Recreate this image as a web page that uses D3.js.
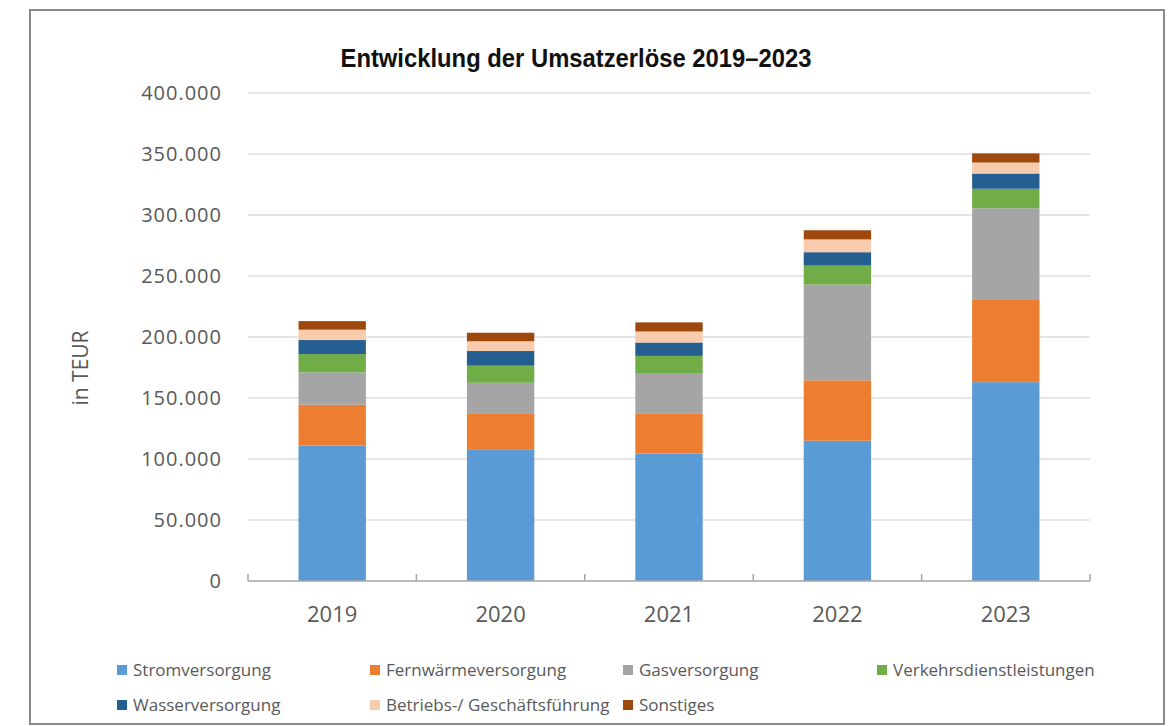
<!DOCTYPE html>
<html>
<head>
<meta charset="utf-8">
<script src="https://cdn.jsdelivr.net/npm/d3@7"></script>
<style>
    body { margin: 0; background: #fff; }
    svg { display: block; }
</style>
</head>
<body>
<svg id="chart" width="1170" height="726"></svg>
<script>
// Chart data (TEUR)
const years = ["2019", "2020", "2021", "2022", "2023"];
const seriesNames = [
    "Stromversorgung", "Fernwärmeversorgung", "Gasversorgung", "Verkehrsdienstleistungen",
    "Wasserversorgung", "Betriebs-/ Geschäftsführung", "Sonstiges"
];
const strom = [111000, 107500, 104500, 115000, 163000];
const fernwaerme = [33500, 30000, 32500, 49500, 68000];
const gas = [26500, 25000, 33500, 78500, 74500];
const verkehr = [15000, 14000, 14000, 15500, 16000];
const wasser = [11500, 12000, 11000, 11000, 12500];
const betrieb = [8500, 8000, 9000, 10500, 9000];
const sonstiges = [7000, 7000, 7500, 7500, 7500];
const yTicks = [0, 50000, 100000, 150000, 200000, 250000, 300000, 350000, 400000];
const seriesColors = ["#5b9bd5", "#ed7d31", "#a5a5a5", "#70ad47", "#255e91", "#f8cbad", "#9e480e"];

const seriesValues = [strom, fernwaerme, gas, verkehr, wasser, betrieb, sonstiges];
const table = years.map((y, i) => {
    const row = { year: y };
    seriesNames.forEach((s, j) => { row[s] = seriesValues[j][i]; });
    return row;
});

const svg = d3.select("#chart");
const margin = { top: 93, right: 80, bottom: 145, left: 248 };
const width = +svg.attr("width") - margin.left - margin.right;
const height = +svg.attr("height") - margin.top - margin.bottom;
const textColor = "#595959";

// Frame round the chart
svg.append("rect")
    .attr("x", 30).attr("y", 10)
    .attr("width", 1134).attr("height", 714)
    .attr("fill", "#fff")
    .attr("stroke", "#8a8a8a")
    .attr("stroke-width", 2);

const chart = svg.append("g").attr("transform", `translate(${margin.left},${margin.top})`);

const x = d3.scaleBand()
    .domain(years)
    .range([0, width])
    .paddingInner(0.6)
    .paddingOuter(0.3);

const y = d3.scaleLinear()
    .domain([0, 400000])
    .range([height, 0]);

const fmt = v => d3.format(",")(v).replace(/,/g, ".");

// Gridlines
chart.append("g")
    .selectAll("line")
    .data(yTicks.filter(d => d > 0))
    .join("line")
    .attr("x1", 0).attr("x2", width)
    .attr("y1", d => y(d)).attr("y2", d => y(d))
    .attr("stroke", "#dedede")
    .attr("stroke-width", 1.5);

// Y labels
const yAxis = chart.append("g")
    .call(d3.axisLeft(y).tickValues(yTicks).tickFormat(fmt).tickSize(0).tickPadding(26));
yAxis.select(".domain").remove();
yAxis.selectAll("text")
    .style("font-family", "'Open Sans', sans-serif")
    .style("font-size", "20px")
    .style("letter-spacing", "1px")
    .style("fill", textColor);

// Stacked bars
const stack = d3.stack().keys(seriesNames);
const layers = stack(table);

chart.append("g")
    .selectAll("g")
    .data(layers)
    .join("g")
    .attr("fill", (d, i) => seriesColors[i])
    .selectAll("rect")
    .data(d => d)
    .join("rect")
    .attr("x", d => x(d.data.year))
    .attr("y", d => y(d[1]))
    .attr("height", d => y(d[0]) - y(d[1]))
    .attr("width", x.bandwidth());

// X axis line with inside ticks at category boundaries
const xAxisG = chart.append("g").attr("transform", `translate(0,${height})`);
xAxisG.append("line")
    .attr("x1", 0).attr("x2", width)
    .attr("stroke", "#a6a6a6")
    .attr("stroke-width", 1.5);
xAxisG.selectAll(".bound")
    .data(d3.range(years.length + 1))
    .join("line")
    .attr("class", "bound")
    .attr("x1", i => i * x.step()).attr("x2", i => i * x.step())
    .attr("y1", 0).attr("y2", -7)
    .attr("stroke", "#a6a6a6")
    .attr("stroke-width", 1.5);
xAxisG.selectAll(".year")
    .data(years)
    .join("text")
    .attr("class", "year")
    .attr("x", d => x(d) + x.bandwidth() / 2)
    .attr("y", 41)
    .attr("text-anchor", "middle")
    .style("font-family", "'Open Sans', sans-serif")
    .style("font-size", "22px")
    .style("fill", textColor)
    .text(d => d);

// Y axis title
svg.append("text")
    .attr("transform", "translate(88,368) rotate(-90)")
    .attr("text-anchor", "middle")
    .style("font-family", "'Open Sans', sans-serif")
    .style("font-size", "21px")
    .style("fill", textColor)
    .text("in TEUR");

// Title (condensed face squeezed to the width of the original)
svg.append("text")
    .attr("x", 576)
    .attr("y", 67)
    .attr("text-anchor", "middle")
    .attr("textLength", 471)
    .attr("lengthAdjust", "spacingAndGlyphs")
    .style("font-family", "'Liberation Sans', Arial, sans-serif")
    .style("font-weight", "bold")
    .style("font-size", "26px")
    .style("fill", "#111")
    .text("Entwicklung der Umsatzerlöse 2019–2023");

// Legend, 4 columns
const legendCols = [117, 370, 623, 877];
const legendRows = [670, 705];
const legend = svg.append("g");
seriesNames.forEach((name, i) => {
    const item = legend.append("g")
        .attr("transform", `translate(${legendCols[i % 4]},${legendRows[Math.floor(i / 4)]})`);
    item.append("rect")
        .attr("x", 0).attr("y", -5)
        .attr("width", 10).attr("height", 10)
        .attr("fill", seriesColors[i]);
    item.append("text")
        .attr("x", 16)
        .attr("y", 6)
        .style("font-family", "'Open Sans', sans-serif")
        .style("font-size", "17px")
        .style("fill", textColor)
        .text(name);
});
</script>
</body>
</html>
